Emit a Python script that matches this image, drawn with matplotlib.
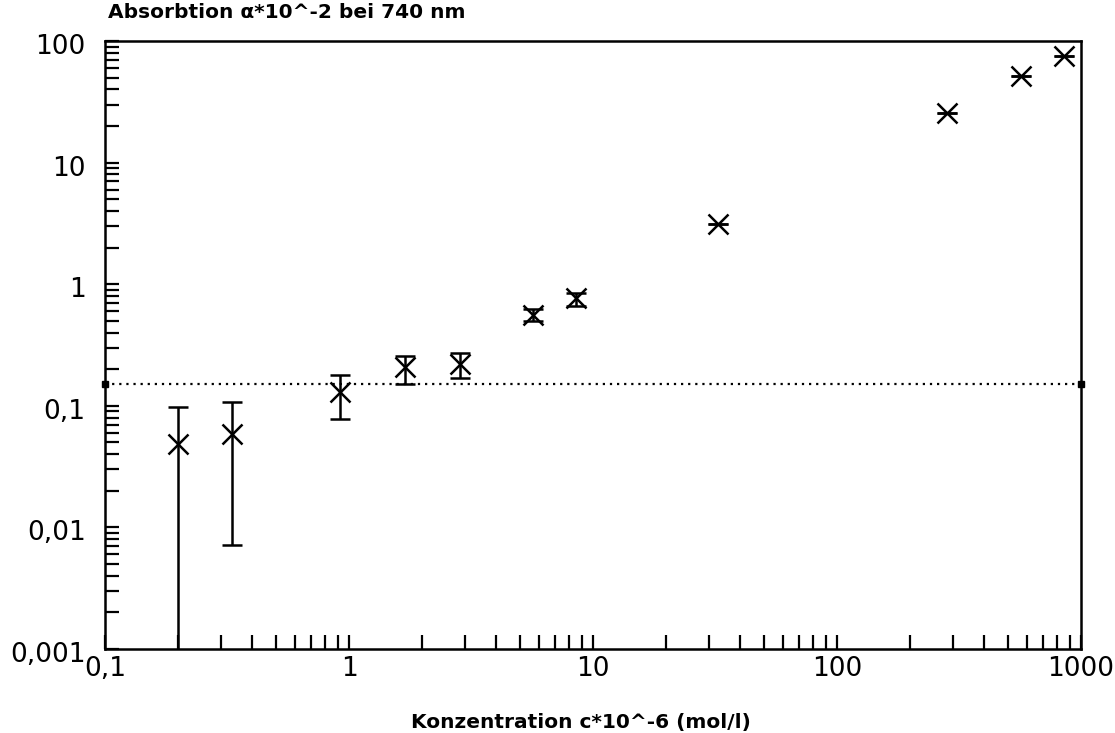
import matplotlib
matplotlib.use("Agg")
import matplotlib.pyplot as plt
import matplotlib.transforms as mtransforms
import numpy as np
from matplotlib.ticker import LogLocator, FixedLocator, NullFormatter

# Data
conc = [0.2, 0.33, 0.915, 1.7, 2.84, 5.66, 8.53, 32.4, 282, 567, 849]
absorb = [0.0485, 0.0586, 0.129, 0.207, 0.221, 0.558, 0.766, 3.13, 25.6, 51.3, 75.7]
err_low = [0.0003, 0.0072, 0.0778, 0.151, 0.168, 0.495, 0.66, 3.13, 25.6, 51.3, 75.7]
err_high = [0.098, 0.107, 0.179, 0.255, 0.270, 0.625, 0.85, 3.13, 25.6, 51.3, 75.7]
threshold = 0.15

x_ticks = [0.1, 1, 10, 100, 1000]
x_labels = ["0,1", "1", "10", "100", "1000"]
y_ticks = [0.001, 0.01, 0.1, 1, 10, 100]
y_labels = ["0,001", "0,01", "0,1", "1", "10", "100"]

title = "Absorbtion α*10^-2 bei 740 nm"
xlabel = "Konzentration c*10^-6 (mol/l)"

fig = plt.figure(figsize=(11.15, 7.33), dpi=100)
ax = fig.add_axes([105 / 1115, 1 - 649 / 733, (1081 - 105) / 1115, (649 - 41) / 733])
ax.set_xscale("log")
ax.set_yscale("log")
ax.set_xlim(0.1, 1000)
ax.set_ylim(0.001, 100)

y = np.array(absorb)
yerr = np.vstack([y - np.array(err_low), np.array(err_high) - y])
ax.errorbar(conc, absorb, yerr=yerr, fmt="none", ecolor="black", elinewidth=1.8,
            capsize=7, capthick=1.8, clip_on=True, zorder=3)
ax.plot(conc, absorb, linestyle="none", marker="x", markersize=14, markeredgewidth=1.8,
        color="black", zorder=4)

ax.plot([0.1, 1000], [threshold, threshold], linestyle=(0, (1, 2.2)), color="black",
        linewidth=1.6, marker="s", markersize=4, clip_on=False, zorder=2)

for sp in ax.spines.values():
    sp.set_linewidth(1.8)

ax.xaxis.set_major_locator(FixedLocator(x_ticks))
ax.set_xticklabels(x_labels)
ax.xaxis.set_minor_locator(LogLocator(base=10, subs=np.arange(2, 10)))
ax.xaxis.set_minor_formatter(NullFormatter())
ax.yaxis.set_major_locator(FixedLocator(y_ticks))
ax.set_yticklabels(y_labels)
ax.yaxis.set_minor_locator(LogLocator(base=10, subs=np.arange(2, 10)))
ax.yaxis.set_minor_formatter(NullFormatter())

ax.tick_params(axis="both", which="both", direction="in", length=10, width=1.6,
               top=False, right=False, labelsize=19)
ax.tick_params(axis="y", which="major", pad=14)
ax.tick_params(axis="x", which="major", pad=5)

# shift y tick labels slightly downward as in the reference
offset = mtransforms.ScaledTranslation(0, -3 / 100, fig.dpi_scale_trans)
for lbl in ax.get_yticklabels():
    lbl.set_transform(lbl.get_transform() + offset)

ax.text(0.003, 1.032, title, transform=ax.transAxes, fontsize=14.5, fontweight="bold",
        ha="left", va="bottom")
ax.set_xlabel(xlabel, fontsize=14.5, fontweight="bold", labelpad=22)
ax.xaxis.set_label_coords(0.488, -0.105)

fig.savefig("out.png", dpi=100)
